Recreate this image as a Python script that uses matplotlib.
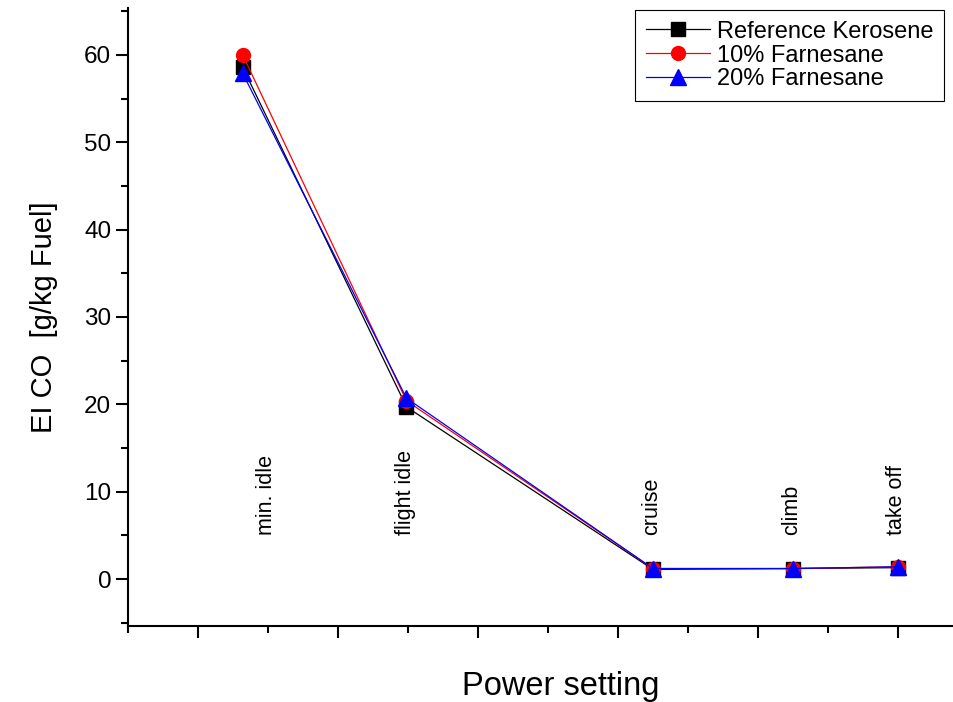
import matplotlib
matplotlib.use("Agg")
import matplotlib.pyplot as plt
from matplotlib.ticker import MultipleLocator, NullFormatter

plt.rcParams["font.family"] = ["Liberation Sans", "DejaVu Sans"]

# ---------- Data ----------
settings = ["min. idle", "flight idle", "cruise", "climb", "take off"]
x_pos = [1.32, 2.49, 4.25, 5.25, 6.0]
label_x = [1.49, 2.48, 4.24, 5.24, 5.99]
label_y = 5.0

kerosene = [58.6, 19.7, 1.1, 1.2, 1.3]
farn10 = [60.0, 20.4, 1.2, 1.2, 1.4]
farn20 = [57.9, 20.7, 1.2, 1.2, 1.4]

# ---------- Plot ----------
fig = plt.figure(figsize=(9.54, 7.02), dpi=100)
ax = fig.add_axes([0.134, 0.108, 0.866, 0.881])

ax.plot(x_pos, kerosene, color="black", lw=0.9, marker="s", ms=9.5,
        label="Reference Kerosene")
ax.plot(x_pos, farn10, color="red", lw=0.9, marker="o", ms=10,
        label="10% Farnesane")
ax.plot(x_pos, farn20, color="blue", lw=0.9, marker="^", ms=11,
        label="20% Farnesane")

for name, lx in zip(settings, label_x):
    ax.text(lx, label_y, name, rotation=90, ha="center", va="bottom",
            fontsize=15.5)

ax.set_xlim(0.5, 6.4)
ax.set_ylim(-5.4, 65.4)

ax.xaxis.set_major_locator(MultipleLocator(1))
ax.xaxis.set_minor_locator(MultipleLocator(0.5))
ax.xaxis.set_major_formatter(NullFormatter())
ax.yaxis.set_major_locator(MultipleLocator(10))
ax.yaxis.set_minor_locator(MultipleLocator(5))

ax.tick_params(axis="both", which="major", direction="out", length=8.5,
               width=1.5, labelsize=17.5)
ax.tick_params(axis="both", which="minor", direction="out", length=5,
               width=1.5)

for side in ["top", "right"]:
    ax.spines[side].set_visible(False)
for side in ["left", "bottom"]:
    ax.spines[side].set_linewidth(1.5)

ax.set_xlabel("Power setting", fontsize=23.5, labelpad=20)
ax.xaxis.label.set_x(0.524)
ax.set_ylabel("EI CO  [g/kg Fuel]", fontsize=21, labelpad=19)

leg = ax.legend(loc="upper right", fontsize=17, handlelength=2.7,
                bbox_to_anchor=(944 / 954, 1 - 10 / 702),
                bbox_transform=fig.transFigure,
                fancybox=False, framealpha=1, edgecolor="black",
                borderaxespad=0, labelspacing=0.08, handletextpad=0.3,
                borderpad=0.45)
leg.get_frame().set_linewidth(0.8)

fig.savefig("out.png", dpi=100)
